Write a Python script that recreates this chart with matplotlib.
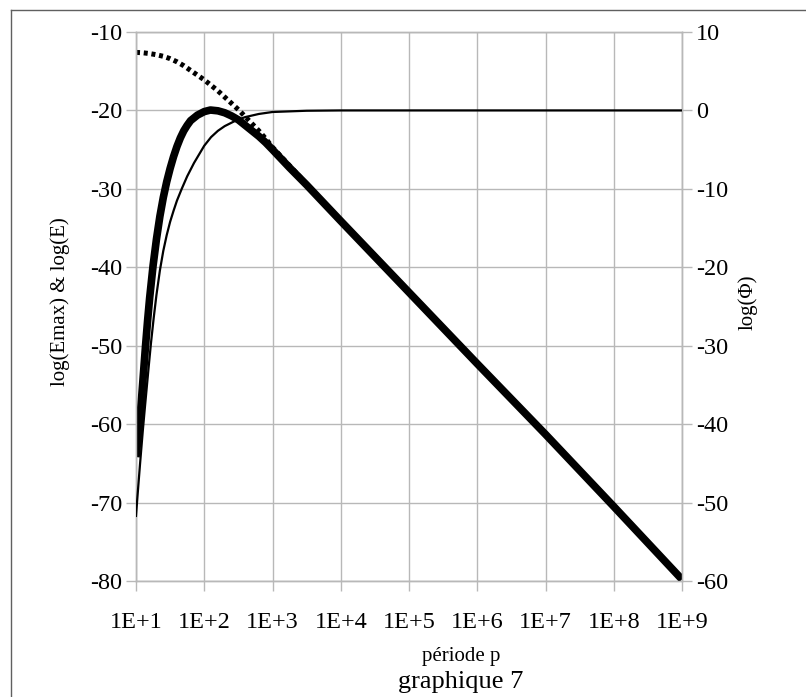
import matplotlib
matplotlib.use("Agg")
import matplotlib.pyplot as plt
from matplotlib.lines import Line2D
from matplotlib.ticker import FixedLocator, FixedFormatter, NullLocator

plt.rcParams['font.family'] = ['Liberation Serif', 'DejaVu Serif']
plt.rcParams['axes.unicode_minus'] = False

# ---- data (x = période p) ----
p_E = [10, 10.47, 10.96, 11.48, 12.02, 12.59, 13.18, 13.80, 14.79, 15.85,
       17.78, 19.95, 22.39, 25.12, 28.18, 31.62, 35.48, 39.81, 44.67, 50.12,
       56.23, 63.10, 79.43, 100, 123, 158.5, 199.5, 251.2, 316.2, 398.1,
       501.2, 631, 794, 1000, 1778, 3162, 5623, 1e4, 1e5, 1e6, 1e7, 1e8, 1e9]
log_E = [-64.2, -62.6, -60.9, -59.0, -56.9, -54.6, -52.3, -50.0, -46.8, -43.9,
         -39.8, -36.4, -33.5, -31.1, -29.1, -27.4, -25.9, -24.6, -23.5, -22.6,
         -21.9, -21.3, -20.6, -20.15, -19.95, -20.05, -20.3, -20.7, -21.2,
         -21.9, -22.6, -23.3, -24.1, -25.0, -27.3, -29.5, -31.8, -34.1, -43.2,
         -52.3, -61.3, -70.5, -79.8]

p_Emax = [10, 12.59, 15.85, 19.95, 25.12, 31.62, 39.81, 50.12, 63.10, 79.43,
          100, 125.9, 158.5, 199.5, 251.2, 316.2, 398.1, 501.2, 631, 794,
          1000, 3162, 1e4, 1e5, 1e6, 1e7, 1e8, 1e9]
log_Emax = [-12.6, -12.65, -12.75, -12.9, -13.1, -13.4, -13.8, -14.3, -14.9,
            -15.5, -16.1, -16.8, -17.5, -18.3, -19.1, -19.9, -20.8, -21.7,
            -22.6, -23.6, -24.7, -29.4, -34.0, -43.1, -52.2, -61.2, -70.4,
            -79.7]

p_Phi = [10, 10.47, 10.96, 11.48, 12.02, 12.59, 13.49, 14.45, 15.49, 16.60,
         18.20, 19.95, 22.39, 25.12, 28.18, 31.62, 35.48, 39.81, 46.77, 56.23,
         70.79, 100, 125.9, 158.5, 199.5, 288.4, 398.1, 631, 1000, 3162, 1e4,
         1e9]
log_Phi = [-51.7, -49.4, -47.2, -45.0, -42.9, -40.8, -37.9, -35.1, -32.3,
           -29.6, -26.4, -23.5, -20.4, -17.9, -15.9, -14.2, -12.8, -11.5,
           -10.0, -8.4, -6.7, -4.5, -3.4, -2.6, -2.0, -1.3, -0.85, -0.45, -0.2,
           -0.04, 0.0, 0.0]

x_ticks = [1e1, 1e2, 1e3, 1e4, 1e5, 1e6, 1e7, 1e8, 1e9]
x_labels = ['1E+1', '1E+2', '1E+3', '1E+4', '1E+5', '1E+6', '1E+7', '1E+8', '1E+9']
left_ticks = [-80, -70, -60, -50, -40, -30, -20, -10]
right_ticks = [-60, -50, -40, -30, -20, -10, 0, 10]

W, H = 806, 697
fig = plt.figure(figsize=(W / 100, H / 100), dpi=100)
ax = fig.add_axes([136 / W, 1 - 581 / H, (682 - 136) / W, (581 - 32) / H])
ax2 = ax.twinx()

grid_c = '#b8b8b8'
ax.set_xscale('log')
ax.set_xlim(1e1, 1e9)
ax.set_ylim(-80, -10)
ax2.set_ylim(-60, 10)

ax.xaxis.set_major_locator(FixedLocator(x_ticks))
ax.xaxis.set_major_formatter(FixedFormatter(x_labels))
ax.xaxis.set_minor_locator(NullLocator())
ax.set_yticks(left_ticks)
ax2.set_yticks(right_ticks)

ax.grid(True, color=grid_c, linewidth=1.0)
for a in (ax, ax2):
    for s in a.spines.values():
        s.set_color(grid_c)
        s.set_linewidth(1.0)
    a.tick_params(direction='out', length=7, width=1.0, color=grid_c,
                  labelsize=17.5, labelcolor='black', pad=3)
ax.tick_params(axis='x', pad=15)

# curves
ax.plot(p_Emax, log_Emax, color='black', linewidth=3.6,
        linestyle=(0, (0.8, 0.75)), dash_capstyle='butt', zorder=2)
ax.plot(p_E, log_E, color='black', linewidth=5.5, solid_capstyle='butt',
        zorder=3)
ax2.plot(p_Phi, log_Phi, color='black', linewidth=1.6, zorder=4)
ax2.set_zorder(ax.get_zorder() + 1)
ax2.patch.set_visible(False)

# labels
fig.text(60 / W, 1 - 302 / H, 'log(Emax) & log(E)', rotation=90,
         ha='center', va='center', fontsize=15)
fig.text(748 / W, 1 - 302 / H, 'log(Φ)', rotation=90,
         ha='center', va='center', fontsize=15)
fig.text(461 / W, 1 - 657 / H, 'période p', ha='center', va='center',
         fontsize=15)
fig.text(461 / W, 1 - 682 / H, 'graphique 7', ha='center', va='center',
         fontsize=19)

# frame lines (top and left)
fig.add_artist(Line2D([10.5 / W, 1], [1 - 10 / H, 1 - 10 / H],
                      transform=fig.transFigure, color='#606060', linewidth=1.0))
fig.add_artist(Line2D([10.5 / W, 10.5 / W], [0, 1 - 10 / H],
                      transform=fig.transFigure, color='#606060', linewidth=1.0))

fig.savefig('out.png', dpi=100)
